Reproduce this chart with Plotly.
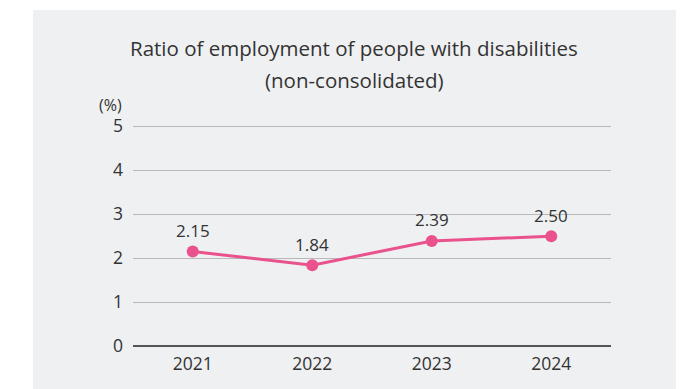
import plotly.graph_objects as go

years = ["2021", "2022", "2023", "2024"]
ratios = [2.15, 1.84, 2.39, 2.50]
y_ticks = [0, 1, 2, 3, 4, 5]
title_line1 = "Ratio of employment of people with disabilities"
title_line2 = "(non-consolidated)"
unit_label = "(%)"

FONT = "Open Sans, Liberation Sans, Arial, sans-serif"
TXT = "#333333"
PINK = "#e9528c"
PANEL = "#eff0f2"

W, H = 690, 389
YMAX = 5.03
L, R, B = 133, 611, 346
T = 125
pw, ph = R - L, B - T

def px_to_paper_x(px):
    return (px - L) / pw

def px_to_paper_y(py):
    return (B - py) / ph

fig = go.Figure()
fig.add_trace(go.Scatter(
    x=years, y=ratios, mode="lines+markers",
    line=dict(color=PINK, width=3),
    marker=dict(color=PINK, size=12),
    hoverinfo="skip", showlegend=False,
))

annotations = []
for i, v in enumerate(ratios):
    annotations.append(dict(
        x=i, y=v, xref="x", yref="y", text=f"{v:.2f}", showarrow=False,
        yshift=21, xanchor="center", yanchor="middle",
        font=dict(family=FONT, size=17, color=TXT),
    ))
annotations.append(dict(
    x=px_to_paper_x(354), y=px_to_paper_y(48), xref="paper", yref="paper",
    text=title_line1, showarrow=False, xanchor="center", yanchor="middle",
    font=dict(family=FONT, size=20.5, color=TXT),
))
annotations.append(dict(
    x=px_to_paper_x(354), y=px_to_paper_y(80), xref="paper", yref="paper",
    text=title_line2, showarrow=False, xanchor="center", yanchor="middle",
    font=dict(family=FONT, size=20.5, color=TXT),
))
annotations.append(dict(
    x=px_to_paper_x(124), y=px_to_paper_y(105), xref="paper", yref="paper",
    text=unit_label, showarrow=False, xanchor="right", yanchor="middle",
    font=dict(family=FONT, size=16, color=TXT),
))

shapes = [dict(
    type="rect", xref="paper", yref="paper", layer="below",
    x0=px_to_paper_x(33), x1=px_to_paper_x(676),
    y0=px_to_paper_y(400), y1=px_to_paper_y(10),
    fillcolor=PANEL, line=dict(width=0),
)]

fig.update_layout(
    width=W, height=H,
    margin=dict(l=L, r=W - R, t=T, b=H - B, pad=0),
    paper_bgcolor="white", plot_bgcolor=PANEL,
    annotations=annotations, shapes=shapes,
    font=dict(family=FONT, size=17, color=TXT),
    xaxis=dict(
        type="category", range=[-0.5, 3.5], showgrid=False, zeroline=False,
        showline=False, ticks="", ticklabelstandoff=5,
        tickfont=dict(family=FONT, size=17.5, color=TXT), fixedrange=True,
    ),
    yaxis=dict(
        range=[0, YMAX], tickvals=y_ticks, showgrid=True, gridcolor="#b8b8b8",
        gridwidth=1, zeroline=True, zerolinecolor="#555555", zerolinewidth=1.5,
        showline=False, ticks="", ticklabelstandoff=9,
        tickfont=dict(family=FONT, size=17.5, color=TXT), fixedrange=True,
    ),
)

fig.write_html("out.html")
